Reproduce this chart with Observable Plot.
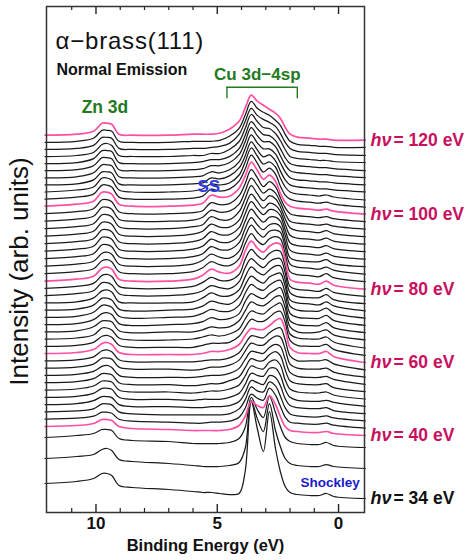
<!DOCTYPE html>
<html><head><meta charset="utf-8">
<script src="https://cdn.jsdelivr.net/npm/d3@7"></script>
<script src="https://cdn.jsdelivr.net/npm/@observablehq/plot@0.6"></script>
<style>body{margin:0;background:#fff} svg{display:block}</style>
</head><body><div id="chart"></div>
<script>
// Binding energies (eV) at which each spectrum was read
const energies = [12.1, 10.8, 10.1, 9.75, 9.55, 9.35, 9.05, 8.5, 7.0, 6.0, 5.6, 5.25, 4.9, 4.5, 4.1, 3.85, 3.6, 3.35, 3.1, 2.85, 2.6, 2.4, 2.2, 2.0, 1.7, 1.2, 0.8, 0.5, 0.2, -1.1];
// photon energies (eV)
const photonEnergies = [34, 36, 38, 40, 42, 44, 46, 48, 50, 52, 54, 56, 58, 60, 62, 64, 66, 68, 70, 72, 74, 76, 78, 80, 82, 84, 86, 88, 90, 92, 94, 96, 98, 100, 102, 104, 106, 108, 110, 112, 114, 116, 118, 120];
// vertical offset of each spectrum (arb. units)
const offsets = [29, 54, 75, 86, 93.3, 100.6, 107.9, 115.2, 122.5, 129.8, 137.1, 144.4, 151.7, 159, 166.2, 173.5, 180.7, 187.9, 195.2, 202.4, 209.6, 216.8, 224.1, 231.3, 238.8, 246.3, 253.8, 261.3, 268.8, 276.3, 283.8, 291.3, 298.8, 306.3, 313.4, 320.5, 327.6, 334.7, 341.8, 348.9, 356, 363.1, 370.2, 377.3];
// intensity relative to offset (arb. units), one row per photon energy
const spectra = [
[0,2,5,10,10,8,-2,-4,-6,-8,-9,-9,-10,-11,-10,12,82,55,32,72,35,12,-3,-9,-11,-12,-12,-10,-13,-15],
[0,2,4,9,10,8,-1,-3,-5,-7,-8,-8,-8,-7,-4,10,58,40,27,55,28,12,0,-5,-7,-8,-8,-6,-8,-10],
[0,2,4,8,8,7,-1,-3,-4,-6,-6,-6,-6,-5,-1,10,40,28,20,41,25,11,0,-4,-6,-7,-7,-5,-8,-10],
[0,1,3,7,7,6,0,-2,-3,-4,-4,-4,-4,-3,1,10,25,21,19,31,22,10,0,-4,-5,-6,-6,-5,-7,-9],
[0,1,3,7,7,6,0,-2,-3,-4,-4,-3,-3,-2,2,11,25,21,19,31,24,13,2,-3,-4,-5,-5,-4,-6,-9],
[0,1,3,8,8,7,0,-2,-3,-3,-3,-3,-3,-2,3,12,25,21,20,30,26,16,4,-2,-4,-5,-5,-4,-6,-9],
[0,1,4,8,8,7,0,-2,-2,-3,-3,-2,-2,-1,3,12,24,22,20,29,27,19,6,-1,-3,-4,-4,-3,-6,-9],
[0,1,4,9,9,8,0,-2,-2,-3,-2,-2,-2,0,4,13,24,22,21,29,29,22,8,0,-3,-4,-4,-3,-5,-9],
[0,1,4,9,9,8,0,-2,-2,-3,-2,-1,-1,1,5,14,24,22,21,28,30,25,10,1,-2,-3,-3,-2,-5,-9],
[0,1,4,9,9,8,0,-2,-2,-3,-2,-1,-1,2,6,15,24,22,22,28,31,27,13,2,-1,-2,-2,-1,-5,-9],
[0,1,4,9,10,8,0,-2,-2,-2,-1,0,0,2,7,16,24,23,22,28,31,29,16,3,-1,-2,-2,-1,-4,-9],
[0,1,4,10,10,9,1,-1,-1,-2,-1,1,1,3,8,17,25,23,23,28,32,31,19,4,0,-1,-1,0,-4,-9],
[0,1,4,10,11,9,1,-1,-1,-1,0,1,1,3,8,17,25,24,23,28,32,33,21,5,0,0,0,1,-3,-9],
[0,1,4,10,11,9,1,-1,-1,-1,0,2,2,4,9,18,25,24,24,28,33,35,24,6,1,0,0,2,-3,-9],
[0,1,4,10,11,9,1,-1,-1,-1,1,3,3,4,10,19,27,25,25,29,34,35,24,6,1,0,0,2,-3,-9],
[0,1,4,11,11,9,1,-1,-1,0,2,4,3,5,10,20,28,26,25,30,34,36,24,5,1,0,0,2,-3,-9],
[0,1,5,11,11,10,1,-1,0,0,2,5,4,5,11,21,30,27,26,30,35,36,24,5,0,-1,0,2,-3,-8],
[0,1,5,11,12,10,1,-1,0,1,3,7,5,6,11,23,31,28,26,31,35,37,24,4,0,-1,-1,2,-3,-8],
[0,1,5,12,12,10,1,-1,0,1,4,8,6,6,12,24,33,29,27,32,36,37,24,4,0,-1,-1,2,-3,-8],
[0,1,5,12,12,10,1,-1,0,1,4,9,7,6,13,25,34,30,27,33,36,37,24,4,0,-1,-1,2,-3,-8],
[0,1,5,12,13,11,1,0,0,1,5,10,7,7,13,26,36,31,28,33,37,37,23,3,0,-1,-2,1,-3,-8],
[0,2,5,13,13,11,2,0,0,2,5,10,8,7,14,28,37,32,28,34,37,37,23,3,-1,-2,-2,1,-4,-8],
[0,2,5,13,14,12,2,0,0,2,6,11,8,8,14,29,39,33,29,35,38,37,22,2,-1,-2,-3,0,-4,-8],
[0,2,5,13,14,12,2,0,0,2,6,12,9,8,15,30,40,33,29,35,38,37,22,2,-1,-2,-3,0,-4,-8],
[0,2,5,13,14,12,2,0,0,2,6,12,9,8,15,30,40,33,29,35,37,35,20,2,-1,-2,-3,0,-4,-8],
[0,2,5,13,14,12,2,0,0,2,6,12,9,8,15,30,41,34,29,35,36,34,19,2,-1,-2,-3,-1,-4,-8],
[0,2,5,14,14,12,2,0,0,2,5,12,9,9,16,30,41,34,29,34,35,32,17,1,-2,-3,-3,-1,-5,-8],
[0,2,5,14,14,12,2,0,0,2,5,12,9,9,16,30,42,35,29,34,34,30,16,1,-2,-3,-4,-2,-5,-8],
[0,2,5,14,14,12,2,0,0,2,5,12,9,9,16,30,42,35,29,34,33,28,14,1,-2,-3,-4,-2,-5,-8],
[0,2,5,14,14,12,2,0,0,2,5,12,9,9,16,30,42,35,28,33,31,25,12,1,-2,-3,-4,-2,-5,-8],
[0,2,5,14,14,12,2,0,0,2,4,12,9,9,17,30,43,35,28,33,30,22,10,1,-2,-3,-4,-2,-5,-8],
[0,2,5,14,14,12,2,0,0,1,4,11,9,10,17,30,43,36,28,32,28,19,8,0,-2,-3,-4,-3,-5,-8],
[0,2,5,14,14,12,2,0,0,1,3,11,9,10,18,30,44,36,27,32,27,16,6,0,-2,-3,-4,-3,-5,-8],
[0,2,5,14,14,12,2,0,0,1,3,11,9,10,18,30,44,36,27,31,25,13,4,0,-2,-3,-4,-3,-5,-8],
[0,2,5,14,14,12,2,0,0,1,3,10,8,10,18,30,44,36,27,31,25,13,4,0,-2,-3,-4,-3,-5,-8],
[0,2,5,14,14,12,2,0,0,1,3,8,7,9,17,30,44,36,28,30,25,14,5,0,-2,-3,-4,-3,-5,-8],
[0,1,5,13,13,12,1,0,0,1,2,7,6,9,17,29,43,35,28,30,24,14,5,0,-2,-3,-4,-4,-5,-7],
[0,1,5,13,13,12,1,0,0,1,2,6,5,8,16,29,43,35,29,29,24,15,6,0,-2,-3,-4,-4,-5,-7],
[0,1,5,13,13,12,1,0,0,1,2,5,5,8,16,29,43,35,29,29,24,15,6,0,-2,-3,-4,-4,-5,-7],
[0,1,5,13,13,12,1,0,0,1,2,4,4,7,15,28,42,35,29,28,23,15,6,0,-2,-3,-4,-4,-5,-7],
[0,1,4,12,13,11,1,0,0,1,1,3,3,7,15,28,42,35,29,28,23,16,7,0,-2,-3,-4,-4,-5,-6],
[0,1,4,12,12,11,1,0,0,1,1,2,3,6,15,28,41,34,30,27,23,16,7,1,-2,-3,-4,-4,-5,-6],
[0,1,4,12,12,11,1,0,0,1,1,1,2,6,14,27,41,34,30,27,22,17,8,1,-2,-3,-4,-4,-5,-5],
[0,1,4,12,12,11,1,0,0,1,1,1,2,6,14,27,40,34,30,26,22,17,8,1,-2,-3,-4,-4,-5,-5]
];
const highlighted = [40, 60, 80, 100, 120];
const labelledEnergies = [120, 100, 80, 60, 40, 34];
const majorTicks = [10, 5, 0];
const minorTicks = [11, 9, 8, 7, 6, 4, 3, 2, 1];
const cuBand = [4.6, 1.7];

const rows = [];
photonEnergies.forEach((hv, i) => {
  energies.forEach((E, j) => rows.push({hv, E, I: offsets[i] + spectra[i][j]}));
});
const blackRows = rows.filter(r => !highlighted.includes(r.hv));
const pinkRows = rows.filter(r => highlighted.includes(r.hv));
const labels = labelledEnergies.map(hv => {
  const i = photonEnergies.indexOf(hv);
  return {hv, I: offsets[i] + spectra[i][spectra[i].length - 1], text: `= ${hv} eV`};
});
const labelColor = d => highlighted.includes(d.hv) ? "#c8105e" : "#111";
const FONT = "Liberation Sans, Arial, Helvetica, sans-serif";
const GREEN = "#237a23";

const chart = Plot.plot({
  width: 474, height: 560,
  marginLeft: 46, marginRight: 110, marginTop: 6, marginBottom: 48,
  style: {fontFamily: FONT, background: "#fff", overflow: "visible"},
  x: {domain: [12.04, -1.07], axis: null},
  y: {domain: [0, 506], axis: null},
  marks: [
    Plot.ruleX(minorTicks, {x: d => d, y1: 0, y2: 4, stroke: "#222", strokeWidth: 1.2}),
    Plot.ruleX(minorTicks, {x: d => d, y1: 502, y2: 506, stroke: "#222", strokeWidth: 1.2}),
    Plot.ruleX(majorTicks, {x: d => d, y1: 0, y2: 8, stroke: "#222", strokeWidth: 1.4}),
    Plot.ruleX(majorTicks, {x: d => d, y1: 498, y2: 506, stroke: "#222", strokeWidth: 1.4}),
    Plot.line(blackRows, {x: "E", y: "I", z: "hv", stroke: "#1a1a1a", strokeWidth: 1.25, curve: "catmull-rom"}),
    Plot.line(pinkRows, {x: "E", y: "I", z: "hv", stroke: "#ff4fa3", strokeWidth: 1.7, curve: "catmull-rom"}),
    Plot.frame({stroke: "#333", strokeWidth: 1.5}),
    Plot.text(majorTicks, {x: d => d, frameAnchor: "bottom", dy: 16, text: d => String(d), fontSize: 17, fontWeight: "bold", fill: "#111"}),
    Plot.text(["Binding Energy (eV)"], {frameAnchor: "bottom", dy: 38, text: d => d, fontSize: 16.5, fontWeight: "bold", fill: "#111"}),
    Plot.text(["Intensity (arb. units)"], {frameAnchor: "left", textAnchor: "middle", dx: -27, dy: 12, rotate: -90, text: d => d, fontSize: 26, fill: "#111"}),
    Plot.text(["α−brass(111)"], {frameAnchor: "top-left", dx: 9, dy: 25, text: d => d, fontSize: 24, textAnchor: "start", fill: "#111"}),
    Plot.text(["Normal Emission"], {frameAnchor: "top-left", dx: 10, dy: 57, text: d => d, fontSize: 16, fontWeight: "bold", textAnchor: "start", fill: "#111"}),
    Plot.text(["Cu 3d−4sp"], {x: 3.35, y: 437.5, text: d => d, fontSize: 17, fontWeight: "bold", fill: GREEN}),
    Plot.ruleY([425.3], {x1: cuBand[0], x2: cuBand[1], stroke: GREEN, strokeWidth: 1.4}),
    Plot.ruleX(cuBand, {x: d => d, y1: 413.7, y2: 425.3, stroke: GREEN, strokeWidth: 1.4}),
    Plot.text(["Zn 3d"], {x: 9.63, y: 405, text: d => d, fontSize: 17.5, fontWeight: "bold", fill: GREEN}),
    Plot.text(["SS"], {x: 5.35, y: 325.5, text: d => d, fontSize: 17, fontWeight: "bold", fill: "#2a3ae6"}),
    Plot.text(["Shockley"], {x: 1.57, y: 29.5, text: d => d, fontSize: 13.5, fontWeight: "bold", textAnchor: "start", fill: "#1a1acc"}),
    Plot.text(labels, {x: -1.07, y: "I", dx: 6, text: () => "hν", fontStyle: "italic", fontWeight: "bold", fontSize: 18, textAnchor: "start", fill: labelColor}),
    Plot.text(labels, {x: -1.07, y: "I", dx: 29, text: "text", fontSize: 17.5, fontWeight: "bold", textAnchor: "start", fill: labelColor})
  ]
});
d3.select(chart).selectAll("text").filter(function() { return this.textContent === "α−brass(111)"; }).attr("letter-spacing", "0.8px");
document.getElementById("chart").appendChild(chart);
</script>
</body></html>
